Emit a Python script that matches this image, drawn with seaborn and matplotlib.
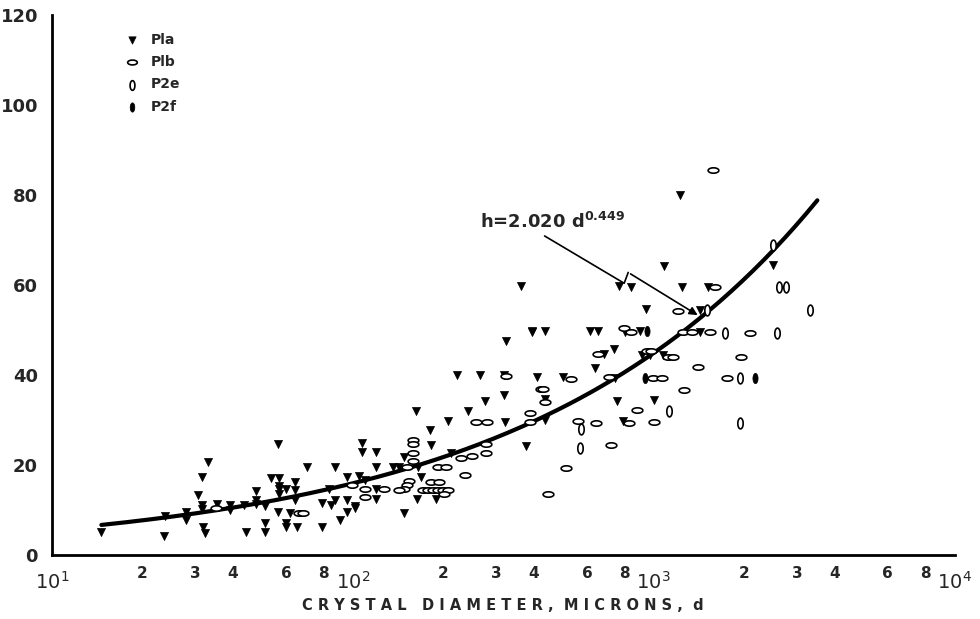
import numpy as np
import pandas as pd
import matplotlib
matplotlib.use("Agg")
import matplotlib.pyplot as plt
import matplotlib.ticker as mticker
import seaborn as sns

# P1a (filled down triangles)
p1a_d = [14.6, 23.5, 23.7, 27.8, 27.8, 33, 31.6, 30.6, 31.6, 31.6, 31.8, 32.2, 35.4,
         39.2, 39.2, 44.3, 43.4, 47.8, 47.8, 47.8, 51, 51, 51, 56.5, 53.5, 56.7, 56.7, 56.7, 56.7,
         59.8, 64.3, 64.3, 56.5, 59.8, 59.8, 61.7, 65, 64.3,
         70.6, 78.7, 78.7, 83.3, 84.9, 87.3, 87.3, 90.7, 96, 96, 95.6, 101.6, 102, 104.5, 107, 107,
         109.5, 119.4, 119.4, 119.4, 119.4,
         135.6, 142.6, 162.3, 147.5, 164.4, 168.5, 148.4, 164, 189, 181, 182, 212, 222, 208, 242,
         264, 275, 318, 319, 321, 377,
         361, 395, 323, 410,
         1086, 766, 838, 1239, 943, 1427, 394, 434, 613, 654, 800, 900, 1427, 684, 737, 637, 912,
         972, 1077, 500, 743, 434, 757, 1005, 793, 434,
         1514, 1220, 2500]
p1a_h = [5.2, 4.2, 8.7, 9.6, 7.8, 20.7, 17.4, 13.3, 11.1, 10.2, 6.3, 5.0, 11.3,
         11.1, 10.0, 5.2, 11.1, 14.3, 12.2, 11.4, 10.9, 7.2, 5.2, 24.8, 17.2, 17.2, 15.3, 14.6, 13.5,
         14.6, 16.3, 14.4, 9.6, 7.2, 6.3, 9.4, 6.3, 12.2,
         19.5, 6.3, 11.5, 14.6, 11.1, 19.5, 12.2, 7.9, 12.2, 9.6, 17.4, 10.9, 10.4, 17.6, 25, 23,
         16.7, 23, 19.6, 14.6, 12.4,
         19.6, 19.6, 32.1, 21.8, 19.6, 17.4, 9.3, 12.4, 12.6, 27.8, 24.4, 22.6, 40, 29.8, 32.1,
         40, 34.3, 40, 35.6, 29.6, 24.2,
         59.8, 49.6, 47.6, 39.6,
         64.3, 59.8, 59.6, 59.6, 54.7, 54.4, 49.8, 49.8, 49.8, 49.8, 49.6, 49.8, 49.6, 44.7, 45.7,
         41.6, 44.4, 44.4, 44.4, 39.6, 39.4, 34.8, 34.3, 34.4, 29.8, 30.0,
         59.6, 80, 64.4]

# P1b (open horizontal ovals)
p1b_d = [35.1, 66.3, 68.5, 99.7, 110, 110, 127, 151.4, 159, 159, 159, 159, 154, 151, 148, 142,
         170.6, 177.5, 184.5, 191.6, 199, 207, 182, 194, 201, 192.5, 204, 229, 249, 236, 257, 280,
         277, 277, 324, 387, 387, 423,
         1208, 798, 840, 1256, 1339, 1534, 654, 948, 980, 1119, 1163, 1408, 533, 710, 997, 1063,
         429, 1265, 434, 878, 561, 642, 830, 1005, 719, 1600, 1750, 513, 445, 1570, 2095, 1954]
p1b_h = [10.4, 9.4, 9.4, 15.6, 14.6, 13, 14.6, 19.5, 25.7, 24.8, 22.6, 21, 16.5, 15.6, 14.6, 14.4,
         14.4, 14.4, 14.4, 14.4, 14.4, 14.4, 16.2, 16.2, 13.6, 19.6, 19.6, 21.6, 22, 17.8, 29.5, 29.5,
         24.8, 22.7, 39.8, 31.5, 29.6, 37,
         54.3, 50.5, 49.5, 49.5, 49.5, 49.6, 44.7, 45.4, 45.4, 44.1, 44.1, 41.8, 39.1, 39.6, 39.4, 39.4,
         37, 36.8, 34.1, 32.2, 29.8, 29.3, 29.4, 29.6, 24.4, 59.5, 39.3, 19.4, 13.7, 85.6, 49.3, 44.1]

# P2e (open vertical ovals)
p2e_d = [1503, 1728, 575, 1125, 571, 2488, 2618, 2754, 3305, 2570, 1940, 1931]
p2e_h = [54.4, 49.4, 28.1, 32, 23.9, 68.9, 59.6, 59.6, 54.4, 49.3, 39.3, 29.3]

# P2f (filled vertical ovals)
p2f_d = [948, 935, 2166]
p2f_h = [49.8, 39.3, 39.3]

# fitted curve h = 2.020 d^0.449
coef, expo = 2.020, 0.449
curve_d = np.logspace(np.log10(14.6), np.log10(3500), 200)
curve_h = coef * curve_d ** expo

sns.set_style("white")
plt.rcParams['font.family'] = ['DejaVu Sans']
plt.rcParams['mathtext.default'] = 'regular'

fig = plt.figure(figsize=(9.8, 6.19), dpi=100)
ax = fig.add_axes([0.053, 0.103, 0.921, 0.873])

t = np.linspace(0, 2 * np.pi, 40)
h_oval = np.column_stack([np.cos(t), 0.5 * np.sin(t)])
v_oval = np.column_stack([0.5 * np.cos(t), np.sin(t)])

sns.lineplot(x=curve_d, y=curve_h, ax=ax, color='black', linewidth=3, zorder=2)
sns.scatterplot(x=p1a_d, y=p1a_h, ax=ax, marker='v', s=34, color='black',
                edgecolor='black', linewidth=0.5, label='Pla', zorder=3)
sns.scatterplot(x=p1b_d, y=p1b_h, ax=ax, marker=h_oval, s=60, facecolor='white',
                edgecolor='black', linewidth=1.2, label='Plb', zorder=3)
sns.scatterplot(x=p2e_d, y=p2e_h, ax=ax, marker=v_oval, s=60, facecolor='white',
                edgecolor='black', linewidth=1.2, label='P2e', zorder=3)
sns.scatterplot(x=p2f_d, y=p2f_h, ax=ax, marker=v_oval, s=55, color='black',
                edgecolor='black', linewidth=0.5, label='P2f', zorder=3)

ax.set_xscale('log')
ax.set_xlim(10, 1e4)
ax.set_ylim(0, 120)

# annotation with zig-zag arrow
ax.text(265, 74, r'h=2.020 d$^{0.449}$', fontsize=13, fontweight='bold', va='center', ha='left')
ax.plot([434, 798, 823], [70.9, 60.4, 62.8], color='black', lw=1.2)
ax.annotate('', xy=(1426, 53), xytext=(823, 62.8),
            arrowprops=dict(arrowstyle='-|>', color='black', lw=1.2, mutation_scale=12))

# axes styling
for s in ['top', 'right']:
    ax.spines[s].set_visible(False)
for s in ['left', 'bottom']:
    ax.spines[s].set_linewidth(2)
    ax.spines[s].set_color('black')

ax.yaxis.set_major_locator(mticker.MultipleLocator(20))
ax.yaxis.set_minor_locator(mticker.MultipleLocator(10))
ax.tick_params(axis='y', which='major', direction='out', length=6, width=1.5, labelsize=13, pad=4)
ax.tick_params(axis='y', which='minor', direction='out', length=4, width=1.2)
for lab in ax.get_yticklabels():
    lab.set_fontweight('bold')

ax.xaxis.set_major_locator(mticker.LogLocator(base=10))
ax.xaxis.set_major_formatter(mticker.FuncFormatter(lambda v, p: r'$10^{%d}$' % round(np.log10(v))))
ax.xaxis.set_minor_locator(mticker.LogLocator(base=10, subs=np.arange(2, 10)))


def minor_fmt(v, p):
    m = int(round(v / 10 ** np.floor(np.log10(v) + 1e-9)))
    return str(m) if m in (2, 3, 4, 6, 8) else ''


ax.xaxis.set_minor_formatter(mticker.FuncFormatter(minor_fmt))
ax.tick_params(axis='x', which='major', direction='out', length=7, width=1.5, labelsize=14, pad=4)
ax.tick_params(axis='x', which='minor', direction='out', length=5, width=1.2, labelsize=11, pad=3)
for lab in ax.get_xticklabels(minor=True):
    lab.set_fontweight('bold')

ax.set_xlabel('C R Y S T A L   D I A M E T E R ,  M I C R O N S ,  d', fontsize=10.5,
              fontweight='bold', labelpad=4)
ax.set_ylabel('')

leg = ax.legend(loc='upper left', bbox_to_anchor=(0.06, 0.99), frameon=False,
                prop={'weight': 'bold', 'size': 10}, handletextpad=0.3, labelspacing=0.6,
                markerscale=0.9)

fig.savefig('out.png', dpi=100)
